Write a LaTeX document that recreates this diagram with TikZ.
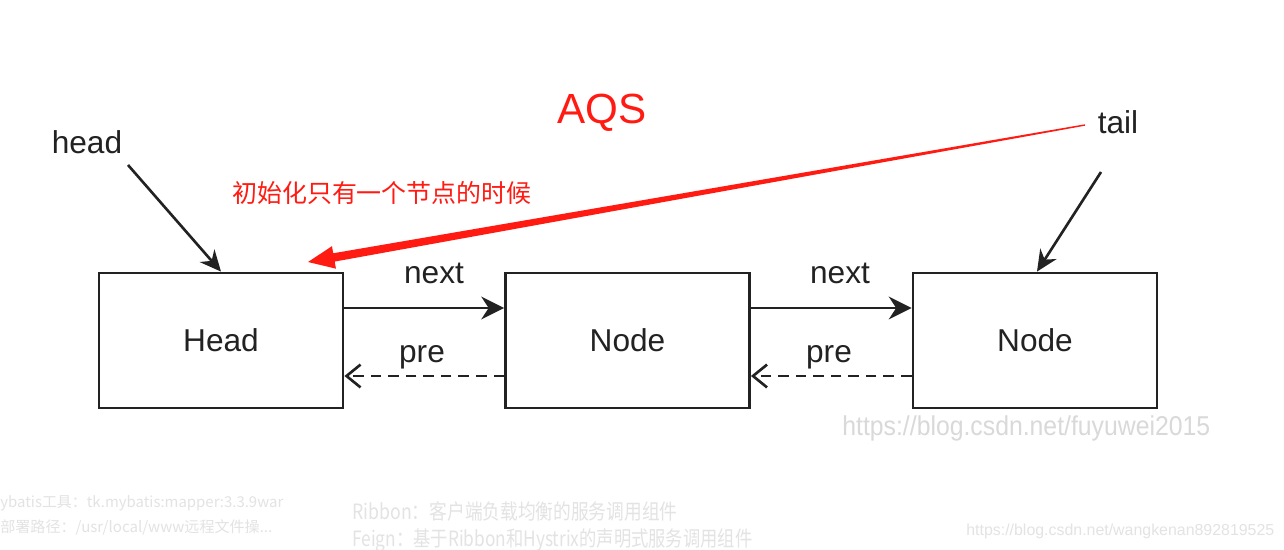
\documentclass[tikz,border=0pt]{standalone}
\usepackage{fontspec}
\setmainfont{Liberation Sans}
\newfontfamily\cjk{Noto Sans CJK SC}
\usetikzlibrary{arrows.meta,calc}
\definecolor{ink}{HTML}{222222}
\definecolor{aqsred}{HTML}{FF1A12}

\begin{document}
\begin{tikzpicture}[x=0.02cm, y=-0.02cm,
  cell/.style={draw=ink, line width=1.6pt, minimum width=244*0.02cm,
    minimum height=135*0.02cm, font=\fontsize{18}{20}\selectfont, text=ink},
  lbl/.style={font=\fontsize{18}{20}\selectfont, text=ink},
  nextarr/.style={-{Stealth[length=13pt,width=13pt]}, line width=1.6pt, draw=ink},
  prearr/.style={-{Straight Barb[length=8pt,width=13pt]}, line width=1.5pt,
    draw=ink, dash pattern=on 6pt off 4pt},
  ptr/.style={-{Stealth[length=12pt,width=11pt]}, line width=1.5pt, draw=ink},
  faint/.style={text=gray!22, anchor=west, inner sep=0pt},
]
\useasboundingbox[fill=white] (0,0) rectangle (1284,550);

% background of the screenshot
\node[faint, font=\cjk\fontsize{11}{13}\selectfont] (mb) at (0,503)
  {\resizebox{5.66cm}{!}{ybatis工具：tk.mybatis:mapper:3.3.9war}};
\node[faint, font=\cjk\fontsize{11}{13}\selectfont] (dp) at (0,527)
  {\resizebox{5.44cm}{!}{部署路径：/usr/local/www远程文件操...}};
\node[faint, font=\cjk\fontsize{12}{14}\selectfont] (rb) at (352,511)
  {\scalebox{0.84}[1]{Ribbon：客户端负载均衡的服务调用组件}};
\node[faint, font=\cjk\fontsize{12}{14}\selectfont] (fg) at (352,540)
  {\scalebox{0.82}[1]{Feign：基于Ribbon和Hystrix的声明式服务调用组件}};
\node[faint, font=\fontsize{11}{13}\selectfont] (wm2) at (966,531)
  {\resizebox{6.16cm}{!}{https://blog.csdn.net/wangkenan892819525}};
\node[faint, text=gray!30, font=\fontsize{15.5}{17}\selectfont] (wm1) at (842,428)
  {\scalebox{0.91}[1]{https://blog.csdn.net/fuyuwei2015}};

% queue
\node[cell] (head) at (221,340.5) {Head};
\node[cell] (mid) at (627.5,340.5) {Node};
\node[cell] (last) at (1035,340.5) {Node};

\node[lbl] (hname) at (87,142) {head};
\node[lbl] (tname) at (1118,122) {tail};
\node[font=\fontsize{24}{27}\selectfont, text=aqsred] (title) at (602,113) {AQS};
\node[font=\cjk\fontsize{14.2}{16}\selectfont, text=aqsred, anchor=west] (note) at (226,193) {初始化只有一个节点的时候};

\draw[nextarr] (head.east |- 0,308) -- (mid.west |- 0,308);
\draw[nextarr] (mid.east |- 0,308) -- (last.west |- 0,308);
\draw[prearr] (mid.west |- 0,376) -- (head.east |- 0,376);
\draw[prearr] (last.west |- 0,376) -- (mid.east |- 0,376);
\node[lbl] (n1) at (434,273) {next};
\node[lbl] (n2) at (840,273) {next};
\node[lbl] (p1) at (422,357) {pre};
\node[lbl] (p2) at (829,357) {pre};

\draw[ptr] (128,165) -- (head.north -| 221,0);
\draw[ptr] (1101,172) -- (last.north -| 1037,0);

% tapered red arrow
\coordinate (rs) at (1085,125);
\coordinate (rt) at (308,262);
\coordinate (rk) at ($(rt)!15pt!(rs)$);
\fill[aqsred] ($(rs)!0.4pt!90:(rt)$) -- ($(rk)!2.4pt!90:(rt)$)
  -- ($(rk)!6.5pt!90:(rt)$) -- (rt) -- ($(rk)!6.5pt!-90:(rt)$)
  -- ($(rk)!2.4pt!-90:(rt)$) -- ($(rs)!0.4pt!-90:(rt)$) -- cycle;
\end{tikzpicture}
\end{document}
